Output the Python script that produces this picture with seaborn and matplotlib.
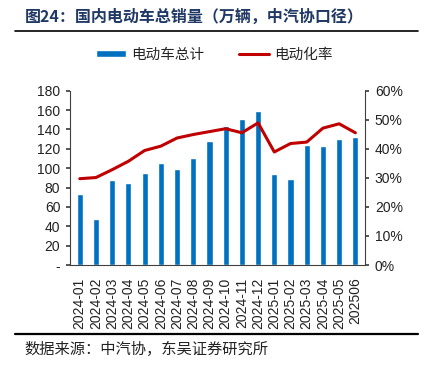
import matplotlib
matplotlib.use("Agg")
import matplotlib.pyplot as plt
import matplotlib.ticker as mticker
import seaborn as sns
import pandas as pd
import numpy as np

# data
months = ['2024-01', '2024-02', '2024-03', '2024-04', '2024-05', '2024-06',
          '2024-07', '2024-08', '2024-09', '2024-10', '2024-11', '2024-12',
          '2025-01', '2025-02', '2025-03', '2025-04', '2025-05', '202506']
ev_total = [73, 47, 88, 85, 95, 105, 99, 110, 128, 143, 151, 159,
            94, 89, 123.5, 122.5, 130.5, 132.5]
ev_rate = [29.7, 30.1, 32.8, 35.7, 39.4, 40.9, 43.7, 44.9, 45.9, 46.9,
           45.5, 48.9, 38.9, 41.8, 42.3, 47.1, 48.6, 45.5]

df = pd.DataFrame({'month': months, 'total': ev_total, 'rate': ev_rate})

sns.set_theme(style='white')
plt.rcParams['font.family'] = ['Liberation Sans', 'Noto Sans CJK SC', 'DejaVu Sans']

bar_color = '#0070C0'
line_color = '#C00000'
axis_color = '#404040'

fig = plt.figure(figsize=(4.28, 3.73), dpi=100)
ax = fig.add_axes([0.1636, 0.2895, 0.853 - 0.1636, 0.757 - 0.2895])

sns.barplot(data=df, x='month', y='total', color=bar_color, width=0.38,
            saturation=1, ax=ax, label='电动车总计')
if ax.get_legend() is not None:
    ax.get_legend().remove()
ax.set_ylim(0, 180)
ax.set_yticks(np.arange(0, 181, 20))
ax.yaxis.set_major_formatter(mticker.FuncFormatter(lambda v, p: '-' if v == 0 else f'{v:.0f}'))
ax.set_xlabel('')
ax.set_ylabel('')
ax.set_xlim(-0.6, len(months) - 0.4)

ax2 = ax.twinx()
sns.lineplot(data=df, x='month', y='rate', color=line_color, linewidth=2.2,
             ax=ax2, label='电动化率', legend=False)
ax2.set_ylim(0, 60)
ax2.set_yticks(np.arange(0, 61, 10))
ax2.yaxis.set_major_formatter(mticker.FuncFormatter(lambda v, p: f'{v:.0f}%'))
ax2.set_ylabel('')
ax2.set_xlabel('')

for a in (ax, ax2):
    for s in a.spines.values():
        s.set_color(axis_color)
        s.set_linewidth(0.8)
    a.spines['top'].set_visible(False)
    a.grid(False)

ax.spines['right'].set_visible(False)
ax.tick_params(axis='y', left=True, length=3, color=axis_color, labelsize=10, pad=4,
               labelcolor='#222222')
ax.tick_params(axis='x', bottom=False, labelsize=10, labelrotation=90, pad=3,
               labelcolor='#222222')
ax2.tick_params(axis='y', right=True, length=3, color=axis_color, labelsize=10, pad=4,
                labelcolor='#222222')
ax2.spines['left'].set_visible(False)
ax2.spines['bottom'].set_visible(False)

# legend
h1, l1 = ax.get_legend_handles_labels()
h2, l2 = ax2.get_legend_handles_labels()
leg = fig.legend(h1 + h2, l1 + l2, loc='center', bbox_to_anchor=(0.5, 0.853),
                 ncol=2, frameon=False, handlelength=2.1,
                 handleheight=0.35, columnspacing=2.4, handletextpad=0.3,
                 prop={'family': ['Noto Sans CJK SC'], 'size': 10.5})

# title, rules and source
fig.text(0.058, 0.955, '图24：国内电动车总销量（万辆，中汽协口径）', fontsize=11.5,
         fontweight='bold', color='#1F3864', family=['Noto Sans CJK SC'], va='center')
fig.add_artist(plt.Line2D([0.035, 0.977], [0.917, 0.917], color='black', lw=1.2))
fig.add_artist(plt.Line2D([0.035, 0.977], [0.105, 0.105], color='black', lw=1.6))
fig.text(0.058, 0.064, '数据来源：中汽协，东吴证券研究所', fontsize=11,
         color='#222222', family=['Noto Sans CJK SC'], va='center')

fig.savefig('out.png', dpi=100)
